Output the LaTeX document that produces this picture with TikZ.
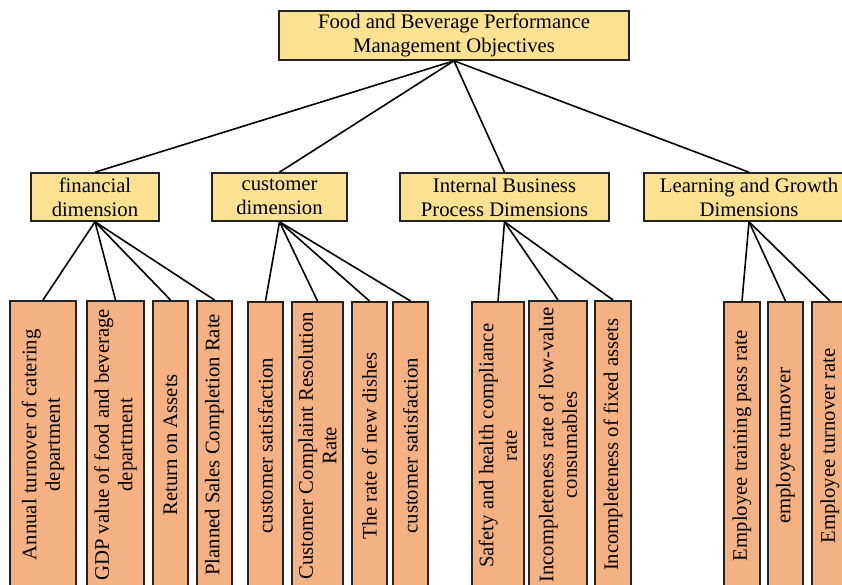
\documentclass[tikz,border=0pt]{standalone}
\usepackage{fontspec}
\setmainfont{Liberation Serif}
\usetikzlibrary{positioning}
\definecolor{dimyellow}{RGB}{250,226,146}
\definecolor{leaforange}{RGB}{244,177,131}
\definecolor{edgegray}{RGB}{35,35,35}

\begin{document}
\begin{tikzpicture}[x=1pt,y=1pt,
  goal/.style={rectangle,draw=edgegray,line width=1.6pt,fill=dimyellow,align=center,
               inner sep=0pt,font=\fontsize{20.7}{24}\selectfont},
  dim/.style={goal,minimum width=#1,minimum height=48pt},
  leaf/.style={rectangle,draw=edgegray,line width=1.6pt,fill=leaforange,rotate=90,anchor=east,
               align=center,inner sep=0pt,minimum width=288pt,minimum height=#1,
               font=\fontsize{20.7}{23.5}\selectfont},
  link/.style={line width=1.6pt}]
\useasboundingbox (0,0) rectangle (842,-584);
\clip (0,0) rectangle (842,-584);

\node[goal,minimum width=350pt,minimum height=49pt] (g) at (454,-35.5)
  {Food and Beverage Performance\\Management Objectives};

\node[dim=128pt] (fin) at (95,-197)    {financial\\dimension};
\node[dim=135pt] (cus) at (279.5,-197) {customer\\dimension};
\node[dim=209pt] (ibp) at (504.5,-197) {Internal Business\\Process Dimensions};
\node[dim=210pt] (lgd) at (749,-197)   {Learning and Growth\\Dimensions};

% financial
\node[leaf=66pt] (f1) at (43,-300)    {Annual turnover of catering\\department};
\node[leaf=57pt] (f2) at (115.5,-300) {GDP value of food and beverage\\department};
\node[leaf=35pt] (f3) at (170.5,-300) {Return on Assets};
\node[leaf=35pt] (f4) at (214.5,-300) {Planned Sales Completion Rate};
% customer
\node[leaf=35pt] (c1) at (265.5,-301) {customer satisfaction};
\node[leaf=51pt] (c2) at (317.5,-301) {Customer Complaint Resolution\\Rate};
\node[leaf=35pt] (c3) at (369.5,-301) {The rate of new dishes};
\node[leaf=35pt] (c4) at (410.5,-301) {customer satisfaction};
% internal business process
\node[leaf=52pt] (p1) at (498,-301)   {Safety and health compliance\\rate};
\node[leaf=58pt] (p2) at (558,-300)   {Incompleteness rate of low-value\\consumables};
\node[leaf=36pt] (p3) at (613,-300)   {Incompleteness of fixed assets};
% learning and growth
\node[leaf=36pt] (e1) at (742,-301)   {Employee training pass rate};
\node[leaf=35pt] (e2) at (785.5,-301) {employee turnover};
\node[leaf=36pt] (e3) at (830,-301)   {Employee turnover rate};

\draw[link] (g.south) -- (fin.north);
\draw[link] (g.south) -- (cus.north);
\draw[link] (g.south) -- (ibp.north);
\draw[link] (g.south) -- (lgd.north);

\draw[link] (fin.south) -- (f1.east);
\draw[link] (fin.south) -- (f2.east);
\draw[link] (fin.south) -- (f3.east);
\draw[link] (fin.south) -- (f4.east);

\draw[link] (cus.south) -- (c1.east);
\draw[link] (cus.south) -- (c2.east);
\draw[link] (cus.south) -- (c3.east);
\draw[link] (cus.south) -- (c4.east);

\draw[link] (ibp.south) -- (p1.east);
\draw[link] (ibp.south) -- (p2.east);
\draw[link] (ibp.south) -- (p3.east);

\draw[link] (lgd.south) -- (e1.east);
\draw[link] (lgd.south) -- (e2.east);
\draw[link] (lgd.south) -- (e3.east);
\end{tikzpicture}
\end{document}
